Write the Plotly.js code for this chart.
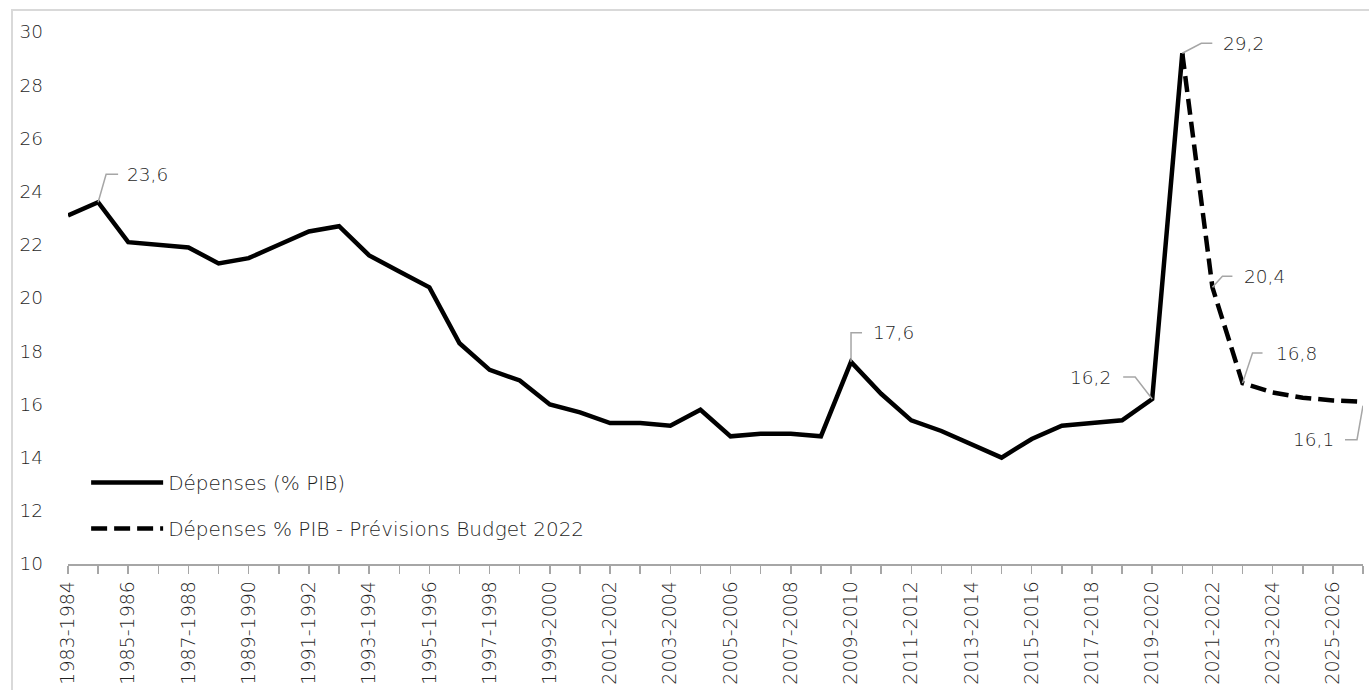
<!DOCTYPE html>
<html>
<head>
<meta charset="utf-8">
<script src="https://cdn.plot.ly/plotly-3.0.1.min.js"></script>
<style>
  html, body { margin: 0; padding: 0; background: #fff; overflow: hidden; }
  #chart { position: absolute; left: 0; top: 0; width: 1369px; height: 690px; }
  #frame { position: absolute; left: 11px; top: 9px; width: 1400px; height: 700px;
           border: 2px solid #D9D9D9; pointer-events: none; box-sizing: border-box; }
</style>
</head>
<body>
<div id="chart"></div>
<div id="frame"></div>
<script>
// ---- DATA ----
const categories = [
  "1983-1984","1984-1985","1985-1986","1986-1987","1987-1988","1988-1989","1989-1990",
  "1990-1991","1991-1992","1992-1993","1993-1994","1994-1995","1995-1996","1996-1997",
  "1997-1998","1998-1999","1999-2000","2000-2001","2001-2002","2002-2003","2003-2004",
  "2004-2005","2005-2006","2006-2007","2007-2008","2008-2009","2009-2010","2010-2011",
  "2011-2012","2012-2013","2013-2014","2014-2015","2015-2016","2016-2017","2017-2018",
  "2018-2019","2019-2020","2020-2021","2021-2022","2022-2023","2023-2024","2024-2025",
  "2025-2026","2026-2027"
];

const actualCategories = categories.slice(0, 38); // 1983-1984 .. 2020-2021
const actualValues = [
  23.1, 23.6, 22.1, 22.0, 21.9, 21.3, 21.5,
  22.0, 22.5, 22.7, 21.6, 21.0, 20.4, 18.3,
  17.3, 16.9, 16.0, 15.7, 15.3, 15.3, 15.2,
  15.8, 14.8, 14.9, 14.9, 14.8, 17.6, 16.4,
  15.4, 15.0, 14.5, 14.0, 14.7, 15.2, 15.3,
  15.4, 16.2, 29.2
];

const forecastCategories = ["2020-2021","2021-2022","2022-2023","2023-2024","2024-2025","2025-2026","2026-2027"];
const forecastValues = [29.2, 20.4, 16.8, 16.45, 16.25, 16.15, 16.1];

const seriesNames = ["Dépenses (% PIB)", "Dépenses % PIB - Prévisions Budget 2022"];

const labelCategories = ["1984-1985","2009-2010","2019-2020","2020-2021","2021-2022","2022-2023","2026-2027"];
const labelValues = [23.6, 17.6, 16.2, 29.2, 20.4, 16.8, 16.1];
const labelTexts = ["23,6","17,6","16,2","29,2","20,4","16,8","16,1"];

const yTickVals = [10, 12, 14, 16, 18, 20, 22, 24, 26, 28, 30];

// ---- STYLE ----
const FONT = "DejaVu Sans, Open Sans, sans-serif";
const TXT = "#1f1f1f";
const LEAD = "#A6A6A6";
const FW = 200;

// leader geometry (pixel offsets relative to point, y up) and text offsets
const leaderStyles = [
  {path: "M0,0 L8,28 L20,28",   tx: 27,  ty: 28, anchor: "left"},
  {path: "M0,0 L0,29 L11,29",   tx: 20,  ty: 29, anchor: "left"},
  {path: "M0,0 L-17,22 L-29,22", tx: -39, ty: 22, anchor: "right"},
  {path: "M0,0 L19,10 L30,10",  tx: 39,  ty: 10, anchor: "left"},
  {path: "M0,0 L10,11 L20,11",  tx: 30,  ty: 11, anchor: "left"},
  {path: "M0,0 L10,30 L20,30",  tx: 31,  ty: 30, anchor: "left"},
  {path: "M0,-4 L-6,-38 L-18,-38", tx: -27, ty: -38, anchor: "right"}
];

const shapes = labelCategories.map((c, i) => ({
  type: "path",
  xref: "x", yref: "y",
  xsizemode: "pixel", ysizemode: "pixel",
  xanchor: c, yanchor: labelValues[i],
  path: leaderStyles[i].path,
  line: {color: LEAD, width: 1.5}
}));

const annotations = labelCategories.map((c, i) => ({
  x: c, y: labelValues[i], xref: "x", yref: "y",
  text: labelTexts[i], showarrow: false,
  xanchor: leaderStyles[i].anchor, yanchor: "middle",
  xshift: leaderStyles[i].tx, yshift: leaderStyles[i].ty,
  font: {family: FONT, size: 18.5, color: TXT, weight: FW}
}));

const traces = [
  {
    x: actualCategories, y: actualValues, type: "scatter", mode: "lines",
    name: seriesNames[0], legendgroup: "a",
    line: {color: "#000000", width: 4.5, shape: "linear"},
    hoverinfo: "skip"
  },
  {
    x: forecastCategories, y: forecastValues, type: "scatter", mode: "lines",
    name: seriesNames[1], legendgroup: "b",
    line: {color: "#000000", width: 4.5, dash: "16px,7px"},
    hoverinfo: "skip"
  }
];

const tickText = categories.map((c, i) => (i % 2 === 0 ? c : ""));

const layout = {
  width: 1369, height: 690,
  margin: {l: 68, r: 6, t: 32, b: 126, pad: 0},
  paper_bgcolor: "#ffffff", plot_bgcolor: "#ffffff",
  font: {family: FONT, size: 18, color: TXT, weight: FW},
  showlegend: true,
  legend: {
    x: 0.014, y: 0.19, xanchor: "left", yanchor: "top",
    bgcolor: "rgba(0,0,0,0)", borderwidth: 0,
    traceorder: "grouped", tracegroupgap: 17,
    itemwidth: 72,
    font: {family: FONT, size: 20, color: TXT, weight: FW}
  },
  xaxis: {
    type: "category",
    categoryorder: "array", categoryarray: categories,
    range: [0, categories.length - 1], autorange: false,
    tickmode: "array", tickvals: categories, ticktext: tickText,
    tickangle: -90,
    ticks: "outside", ticklen: 8, tickwidth: 1.5, tickcolor: "#A6A6A6",
    showline: true, linecolor: "#A6A6A6", linewidth: 1.5,
    showgrid: false, zeroline: false,
    ticklabelstandoff: 0,
    tickfont: {family: FONT, size: 19, color: TXT, weight: FW},
    fixedrange: true
  },
  yaxis: {
    range: [10, 30], autorange: false,
    tickmode: "array", tickvals: yTickVals,
    ticks: "", showline: false, showgrid: false, zeroline: false,
    ticklabelstandoff: 24,
    tickfont: {family: FONT, size: 18.5, color: TXT, weight: FW},
    fixedrange: true
  },
  shapes: shapes,
  annotations: annotations
};

Plotly.newPlot("chart", traces, layout, {displayModeBar: false, staticPlot: true});
</script>
</body>
</html>
